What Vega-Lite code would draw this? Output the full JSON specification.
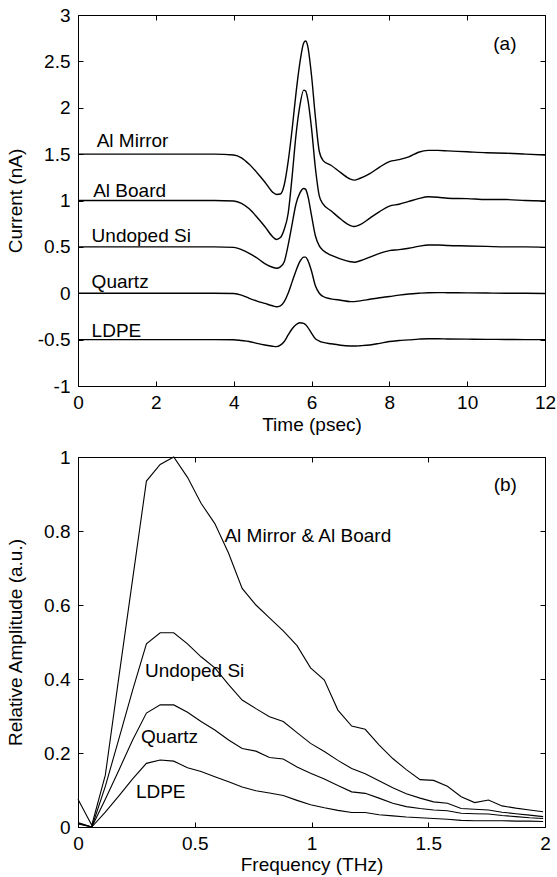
{
  "$schema": "https://vega.github.io/schema/vega-lite/v6.json",
  "background": "white",
  "padding": {"left": 5, "top": 5, "right": 2, "bottom": 2},
  "spacing": 71,
  "bounds": "flush",
  "config": {
    "font": "Liberation Sans",
    "view": {"stroke": "black", "strokeWidth": 1},
    "axis": {"domain": false, "grid": false, "tickSize": -5, "tickColor": "black", "tickWidth": 1, "labelFont": "Liberation Sans", "labelFontSize": 19, "labelColor": "black", "labelFlush": false, "labelOverlap": false, "labelBound": false, "titleFont": "Liberation Sans", "titleFontSize": 19, "titleFontWeight": "normal", "titleColor": "black"},
    "text": {"font": "Liberation Sans", "fontSize": 19, "color": "black"}
  },
  "datasets": {
    "time": [
      {"t": 0, "m": 1.5, "b": 1.0, "s": 0.5, "q": 0, "l": -0.5},
      {"t": 1, "m": 1.5, "b": 1.0, "s": 0.5, "q": 0, "l": -0.5},
      {"t": 2, "m": 1.5, "b": 1.0, "s": 0.5, "q": 0, "l": -0.5},
      {"t": 3, "m": 1.5, "b": 1.0, "s": 0.5, "q": 0, "l": -0.5},
      {"t": 3.5, "m": 1.5, "b": 1.0, "s": 0.5, "q": 0, "l": -0.5},
      {"t": 4.0, "m": 1.49, "b": 0.995, "s": 0.495, "q": -0.003, "l": -0.502},
      {"t": 4.2, "m": 1.46, "b": 0.97, "s": 0.47, "q": -0.02, "l": -0.51},
      {"t": 4.4, "m": 1.39, "b": 0.91, "s": 0.43, "q": -0.055, "l": -0.52},
      {"t": 4.6, "m": 1.30, "b": 0.82, "s": 0.38, "q": -0.085, "l": -0.54},
      {"t": 4.8, "m": 1.20, "b": 0.72, "s": 0.32, "q": -0.11, "l": -0.558},
      {"t": 5.0, "m": 1.09, "b": 0.61, "s": 0.28, "q": -0.135, "l": -0.572},
      {"t": 5.1, "m": 1.065, "b": 0.58, "s": 0.27, "q": -0.145, "l": -0.576},
      {"t": 5.2, "m": 1.07, "b": 0.60, "s": 0.285, "q": -0.135, "l": -0.56},
      {"t": 5.3, "m": 1.17, "b": 0.69, "s": 0.34, "q": -0.09, "l": -0.52},
      {"t": 5.4, "m": 1.42, "b": 0.86, "s": 0.52, "q": 0.0, "l": -0.45},
      {"t": 5.5, "m": 1.76, "b": 1.25, "s": 0.74, "q": 0.12, "l": -0.385},
      {"t": 5.6, "m": 2.15, "b": 1.70, "s": 0.96, "q": 0.24, "l": -0.34},
      {"t": 5.7, "m": 2.48, "b": 2.02, "s": 1.08, "q": 0.34, "l": -0.318},
      {"t": 5.8, "m": 2.70, "b": 2.19, "s": 1.13, "q": 0.39, "l": -0.325},
      {"t": 5.85, "m": 2.72, "b": 2.18, "s": 1.12, "q": 0.39, "l": -0.34},
      {"t": 5.9, "m": 2.67, "b": 2.10, "s": 1.06, "q": 0.36, "l": -0.365},
      {"t": 6.0, "m": 2.35, "b": 1.78, "s": 0.84, "q": 0.24, "l": -0.43},
      {"t": 6.1, "m": 1.90, "b": 1.35, "s": 0.62, "q": 0.08, "l": -0.49},
      {"t": 6.2, "m": 1.53, "b": 1.05, "s": 0.51, "q": 0.0, "l": -0.515},
      {"t": 6.3, "m": 1.43, "b": 0.96, "s": 0.46, "q": -0.035, "l": -0.53},
      {"t": 6.5, "m": 1.38, "b": 0.89, "s": 0.41, "q": -0.06, "l": -0.545},
      {"t": 6.75, "m": 1.30, "b": 0.80, "s": 0.37, "q": -0.075, "l": -0.56},
      {"t": 7.0, "m": 1.23, "b": 0.73, "s": 0.34, "q": -0.09, "l": -0.568},
      {"t": 7.1, "m": 1.22, "b": 0.72, "s": 0.335, "q": -0.09, "l": -0.569},
      {"t": 7.25, "m": 1.24, "b": 0.74, "s": 0.35, "q": -0.082, "l": -0.566},
      {"t": 7.5, "m": 1.29, "b": 0.81, "s": 0.39, "q": -0.065, "l": -0.558},
      {"t": 7.75, "m": 1.36, "b": 0.88, "s": 0.43, "q": -0.048, "l": -0.54},
      {"t": 8.0, "m": 1.42, "b": 0.94, "s": 0.46, "q": -0.035, "l": -0.52},
      {"t": 8.25, "m": 1.44, "b": 0.96, "s": 0.47, "q": -0.02, "l": -0.51},
      {"t": 8.5, "m": 1.47, "b": 0.99, "s": 0.485, "q": -0.008, "l": -0.503},
      {"t": 8.75, "m": 1.52, "b": 1.02, "s": 0.505, "q": 0.0, "l": -0.495},
      {"t": 9.0, "m": 1.54, "b": 1.04, "s": 0.52, "q": 0.006, "l": -0.49},
      {"t": 9.25, "m": 1.54, "b": 1.035, "s": 0.52, "q": 0.007, "l": -0.49},
      {"t": 9.5, "m": 1.535, "b": 1.025, "s": 0.515, "q": 0.006, "l": -0.493},
      {"t": 10, "m": 1.525, "b": 1.02, "s": 0.51, "q": 0.004, "l": -0.495},
      {"t": 10.5, "m": 1.515, "b": 1.01, "s": 0.505, "q": 0.002, "l": -0.497},
      {"t": 11, "m": 1.51, "b": 1.01, "s": 0.5, "q": 0, "l": -0.498},
      {"t": 11.5, "m": 1.50, "b": 1.0, "s": 0.5, "q": 0, "l": -0.5},
      {"t": 12, "m": 1.49, "b": 0.995, "s": 0.495, "q": -0.002, "l": -0.5}
    ],
    "timelabels": [
      {"x": 0.48, "y": 1.58, "text": "Al Mirror"},
      {"x": 0.39, "y": 1.04, "text": "Al Board"},
      {"x": 0.35, "y": 0.556, "text": "Undoped Si"},
      {"x": 0.35, "y": 0.053, "text": "Quartz"},
      {"x": 0.35, "y": -0.468, "text": "LDPE"},
      {"x": 10.67, "y": 2.62, "text": "(a)"}
    ],
    "freq": [
      {"f": 0, "a": 0.075, "s": 0.012, "q": 0.01, "l": 0.008},
      {"f": 0.059, "a": 0.005, "s": 0.0, "q": 0.0, "l": 0.0},
      {"f": 0.117, "a": 0.14, "s": 0.11, "q": 0.075, "l": 0.04},
      {"f": 0.176, "a": 0.41, "s": 0.24, "q": 0.155, "l": 0.085},
      {"f": 0.234, "a": 0.67, "s": 0.37, "q": 0.235, "l": 0.13},
      {"f": 0.293, "a": 0.935, "s": 0.495, "q": 0.308, "l": 0.172},
      {"f": 0.352, "a": 0.98, "s": 0.525, "q": 0.33, "l": 0.181},
      {"f": 0.41, "a": 1.0, "s": 0.525, "q": 0.33, "l": 0.178},
      {"f": 0.469, "a": 0.945, "s": 0.495, "q": 0.31, "l": 0.16},
      {"f": 0.527, "a": 0.875, "s": 0.46, "q": 0.285, "l": 0.15},
      {"f": 0.586, "a": 0.82, "s": 0.43, "q": 0.262, "l": 0.136},
      {"f": 0.645, "a": 0.74, "s": 0.385, "q": 0.235, "l": 0.122},
      {"f": 0.703, "a": 0.645, "s": 0.343, "q": 0.212, "l": 0.108},
      {"f": 0.762, "a": 0.6, "s": 0.32, "q": 0.205, "l": 0.098},
      {"f": 0.82, "a": 0.565, "s": 0.298, "q": 0.188, "l": 0.092},
      {"f": 0.879, "a": 0.53, "s": 0.285, "q": 0.184, "l": 0.085},
      {"f": 0.938, "a": 0.49, "s": 0.255, "q": 0.162, "l": 0.072},
      {"f": 0.996, "a": 0.43, "s": 0.226, "q": 0.145, "l": 0.06},
      {"f": 1.055, "a": 0.397, "s": 0.204, "q": 0.13, "l": 0.052},
      {"f": 1.113, "a": 0.316, "s": 0.18, "q": 0.112, "l": 0.045},
      {"f": 1.172, "a": 0.273, "s": 0.158, "q": 0.095, "l": 0.039},
      {"f": 1.23, "a": 0.264, "s": 0.144, "q": 0.091, "l": 0.039},
      {"f": 1.289, "a": 0.222, "s": 0.125, "q": 0.078, "l": 0.033},
      {"f": 1.348, "a": 0.185, "s": 0.106, "q": 0.064, "l": 0.03},
      {"f": 1.406, "a": 0.155, "s": 0.09, "q": 0.055, "l": 0.027},
      {"f": 1.465, "a": 0.128, "s": 0.078, "q": 0.05, "l": 0.025},
      {"f": 1.523, "a": 0.126, "s": 0.068, "q": 0.046, "l": 0.023},
      {"f": 1.582, "a": 0.11, "s": 0.064, "q": 0.044, "l": 0.021},
      {"f": 1.641, "a": 0.082, "s": 0.05, "q": 0.037, "l": 0.018},
      {"f": 1.699, "a": 0.066, "s": 0.048, "q": 0.036, "l": 0.017},
      {"f": 1.758, "a": 0.073, "s": 0.046, "q": 0.035, "l": 0.017},
      {"f": 1.816, "a": 0.057, "s": 0.04, "q": 0.031, "l": 0.017},
      {"f": 1.875, "a": 0.051, "s": 0.036, "q": 0.028, "l": 0.016},
      {"f": 1.934, "a": 0.046, "s": 0.032, "q": 0.025, "l": 0.016},
      {"f": 1.992, "a": 0.041, "s": 0.028, "q": 0.023, "l": 0.015}
    ],
    "freqlabels": [
      {"x": 0.627, "y": 0.771, "text": "Al Mirror & Al Board"},
      {"x": 1.78, "y": 0.909, "text": "(b)"},
      {"x": 0.287, "y": 0.405, "text": "Undoped Si"},
      {"x": 0.27, "y": 0.226, "text": "Quartz"},
      {"x": 0.248, "y": 0.078, "text": "LDPE"}
    ]
  },
  "vconcat": [
    {
      "width": 467,
      "height": 371,
      "layer": [
        {
          "data": {"name": "time"},
          "transform": [{"fold": ["m", "b", "s", "q", "l"], "as": ["series", "v"]}],
          "mark": {"type": "line", "color": "black", "strokeWidth": 1.4, "interpolate": "monotone"},
          "encoding": {
            "x": {"field": "t", "type": "quantitative", "scale": {"domain": [0, 12], "nice": false, "zero": false},
              "axis": {"title": "Time (psec)", "values": [0, 2, 4, 6, 8, 10, 12], "labelPadding": 12, "titlePadding": 3, "labelExpr": "'' + datum.value"}},
            "y": {"field": "v", "type": "quantitative", "scale": {"domain": [-1, 3], "nice": false, "zero": false},
              "axis": {"title": "Current (nA)", "values": [-1, -0.5, 0, 0.5, 1, 1.5, 2, 2.5, 3], "labelPadding": 13, "titleX": -53, "titleY": 185.5, "labelExpr": "'' + datum.value"}},
            "detail": {"field": "series", "type": "nominal"}
          }
        },
        {
          "data": {"name": "timelabels"},
          "mark": {"type": "text", "align": "left", "baseline": "alphabetic"},
          "encoding": {
            "x": {"field": "x", "type": "quantitative", "axis": null},
            "y": {"field": "y", "type": "quantitative", "axis": null},
            "text": {"field": "text"}
          }
        },
        {
          "data": {"name": "timelabels"},
          "mark": {"type": "point", "opacity": 0},
          "encoding": {
            "x": {"field": "x", "type": "quantitative", "axis": {"orient": "top", "values": [0, 2, 4, 6, 8, 10, 12], "labels": false, "title": null}},
            "y": {"field": "y", "type": "quantitative", "axis": {"orient": "right", "values": [-1, -0.5, 0, 0.5, 1, 1.5, 2, 2.5, 3], "labels": false, "title": null}}
          }
        }
      ],
      "resolve": {"axis": {"x": "independent", "y": "independent"}}
    },
    {
      "width": 467,
      "height": 370,
      "layer": [
        {
          "data": {"name": "freq"},
          "transform": [{"fold": ["a", "s", "q", "l"], "as": ["series", "v"]}],
          "mark": {"type": "line", "color": "black", "strokeWidth": 1.1},
          "encoding": {
            "x": {"field": "f", "type": "quantitative", "scale": {"domain": [0, 2], "nice": false, "zero": false},
              "axis": {"title": "Frequency (THz)", "values": [0, 0.5, 1, 1.5, 2], "labelPadding": 12, "titlePadding": 2, "labelExpr": "'' + datum.value"}},
            "y": {"field": "v", "type": "quantitative", "scale": {"domain": [0, 1], "nice": false, "zero": false},
              "axis": {"title": "Relative Amplitude (a.u.)", "values": [0, 0.2, 0.4, 0.6, 0.8, 1], "labelPadding": 13, "titleX": -53, "titleY": 185, "labelExpr": "'' + datum.value"}},
            "detail": {"field": "series", "type": "nominal"}
          }
        },
        {
          "data": {"name": "freqlabels"},
          "mark": {"type": "text", "align": "left", "baseline": "alphabetic"},
          "encoding": {
            "x": {"field": "x", "type": "quantitative", "axis": null},
            "y": {"field": "y", "type": "quantitative", "axis": null},
            "text": {"field": "text"}
          }
        },
        {
          "data": {"name": "freqlabels"},
          "mark": {"type": "point", "opacity": 0},
          "encoding": {
            "x": {"field": "x", "type": "quantitative", "axis": {"orient": "top", "values": [0, 0.5, 1, 1.5, 2], "labels": false, "title": null}},
            "y": {"field": "y", "type": "quantitative", "axis": {"orient": "right", "values": [0, 0.2, 0.4, 0.6, 0.8, 1], "labels": false, "title": null}}
          }
        }
      ],
      "resolve": {"axis": {"x": "independent", "y": "independent"}}
    }
  ]
}
